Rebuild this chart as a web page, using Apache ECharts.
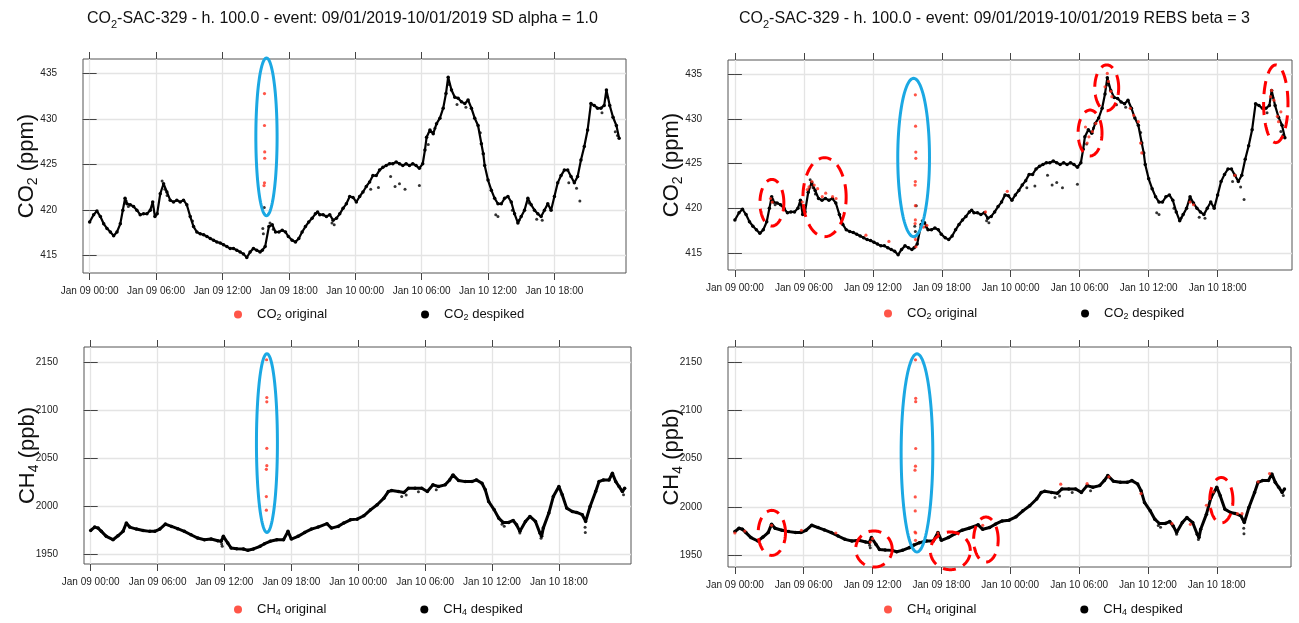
<!DOCTYPE html>
<html><head><meta charset="utf-8">
<script src="https://cdn.jsdelivr.net/npm/echarts@6/dist/echarts.min.js"></script>
<style>html,body{margin:0;padding:0;background:#fff}#c{width:1299px;height:623px}</style>
</head><body><div id="c"></div>
<script>
// ---- tick labels ----
const xTickHours = [0, 6, 12, 18, 24, 30, 36, 42];
const xTickLabels = ['Jan 09 00:00','Jan 09 06:00','Jan 09 12:00','Jan 09 18:00','Jan 10 00:00','Jan 10 06:00','Jan 10 12:00','Jan 10 18:00'];
const co2Ticks = [415, 420, 425, 430, 435];
const ch4Ticks = [1950, 2000, 2050, 2100, 2150];

// ---- data: [hours since Jan 09 00:00, value] ----
const co2Despiked = [[0.0,418.7],[0.36,419.5],[0.66,419.9],[0.97,419.3],[1.27,418.5],[1.57,418.0],[1.87,417.6],[2.17,417.2],[2.47,417.6],[2.77,418.5],[3.0,420.0],[3.2,421.3],[3.37,420.7],[3.67,420.6],[3.97,420.4],[4.27,420.0],[4.57,419.5],[4.87,419.6],[5.18,419.6],[5.48,420.0],[5.7,420.9],[5.9,419.3],[6.1,419.6],[6.38,421.8],[6.68,422.9],[6.98,422.0],[7.28,421.1],[7.58,420.9],[7.88,421.1],[8.18,420.9],[8.48,421.1],[8.78,420.6],[9.09,419.3],[9.39,418.2],[9.69,417.6],[9.99,417.4],[10.3,417.3],[10.6,417.1],[10.9,416.9],[11.2,416.7],[11.5,416.5],[11.8,416.4],[12.1,416.2],[12.4,416.0],[12.7,415.8],[13.0,415.8],[13.3,415.6],[13.6,415.4],[13.9,415.2],[14.2,414.8],[14.5,415.4],[14.8,415.8],[15.1,415.6],[15.4,415.4],[15.6,415.6],[15.86,416.0],[16.2,418.2],[16.5,418.4],[16.8,417.6],[17.1,417.6],[17.4,417.8],[17.7,417.6],[17.96,417.1],[18.3,416.7],[18.6,416.5],[18.9,416.9],[19.2,417.6],[19.5,418.2],[19.8,418.7],[20.1,419.1],[20.4,419.6],[20.6,419.8],[20.8,419.5],[21.1,419.5],[21.4,419.3],[21.7,419.5],[22.0,418.9],[22.3,419.1],[22.6,419.6],[22.9,420.2],[23.2,420.7],[23.5,421.5],[23.8,421.4],[24.1,420.9],[24.4,421.5],[24.7,422.0],[25.0,422.6],[25.3,423.1],[25.6,423.8],[25.9,423.8],[26.2,424.4],[26.5,424.7],[26.8,424.9],[27.1,425.1],[27.4,425.1],[27.7,425.3],[28.0,425.1],[28.3,424.9],[28.6,425.1],[28.9,424.9],[29.2,425.1],[29.5,424.9],[29.8,424.6],[30.1,425.1],[30.3,426.6],[30.45,428.0],[30.75,428.8],[31.05,428.4],[31.35,429.5],[31.65,430.1],[31.95,431.2],[32.2,432.8],[32.4,434.6],[32.7,433.2],[33.0,432.4],[33.3,432.3],[33.6,431.9],[33.9,431.7],[34.2,432.1],[34.5,431.2],[34.8,430.1],[35.1,429.3],[35.4,427.3],[35.57,426.2],[35.7,424.9],[36.0,423.3],[36.3,422.2],[36.6,421.3],[36.9,420.7],[37.2,420.7],[37.5,421.3],[37.8,421.5],[38.1,420.9],[38.4,419.6],[38.7,418.6],[39.0,419.3],[39.3,420.0],[39.6,421.3],[39.9,420.6],[40.2,420.0],[40.5,419.6],[40.8,419.3],[41.1,420.0],[41.4,420.7],[41.7,420.0],[42.0,421.5],[42.3,423.0],[42.6,423.8],[42.9,424.4],[43.2,424.4],[43.5,423.7],[43.8,423.0],[44.1,423.7],[44.4,425.5],[44.7,427.0],[45.0,428.8],[45.3,431.7],[45.6,431.5],[45.9,431.2],[46.2,431.2],[46.5,431.5],[46.7,433.2],[47.0,431.5],[47.3,430.2],[47.6,429.3],[47.85,427.9]];
const co2DespikedExtra = [[15.65,418.0],[15.7,417.4],[15.78,420.3],[6.55,423.2],[6.8,422.3],[7.0,421.6],[3.3,421.0],[3.5,420.4],[9.3,418.8],[16.3,418.6],[16.6,417.9],[21.9,418.6],[22.1,418.4],[26.1,422.5],[27.6,422.6],[28.0,422.9],[28.5,422.3],[29.8,422.7],[27.2,423.7],[25.4,422.3],[30.6,427.2],[31.2,429.0],[32.5,433.8],[33.2,431.6],[34.0,431.3],[35.3,428.5],[36.7,419.5],[36.9,419.3],[38.2,420.0],[38.8,418.9],[39.7,420.8],[40.4,419.0],[40.9,418.9],[43.3,423.0],[44.3,421.0],[44.0,422.4],[46.3,430.7],[46.8,432.4],[47.5,428.6],[47.7,428.2]];
const ch4Despiked = [[0,1974.6],[0.36,1978.1],[0.66,1977],[0.96,1973.6],[1.4,1968.4],[2.0,1964.9],[2.45,1969],[2.9,1973.6],[3.2,1982.3],[3.5,1978.1],[4.1,1976],[4.7,1974.6],[5.3,1973.6],[5.75,1973.6],[6.2,1976],[6.7,1981.2],[7.25,1978.8],[7.8,1976.4],[8.4,1973.6],[9.0,1970.1],[9.6,1966.6],[10.2,1964.9],[10.8,1965.6],[11.4,1963.8],[11.7,1963.2],[11.9,1968.4],[12.3,1961.4],[12.6,1956.2],[13.1,1955.5],[13.7,1955.2],[14.1,1953.8],[14.6,1955.2],[15.2,1958],[15.6,1960.7],[16.1,1963.2],[16.7,1964.9],[17.3,1964.9],[17.7,1973.6],[18.0,1965.6],[18.6,1968.4],[19.2,1972.5],[19.8,1976],[20.4,1978.1],[21.2,1981.6],[21.6,1977],[22.2,1978.8],[22.7,1982.3],[23.3,1985.7],[23.9,1986.4],[24.5,1989.9],[25.1,1996.1],[25.7,2001.4],[26.3,2008.3],[26.7,2015.2],[27.0,2016.3],[27.6,2015.2],[28.1,2014.2],[28.5,2018.7],[29.1,2018.7],[29.7,2018.7],[30.2,2015.2],[30.7,2022.2],[31.2,2020.5],[31.8,2022.2],[32.2,2027.4],[32.5,2032.6],[33.0,2026.7],[33.6,2025.6],[34.2,2025.6],[34.6,2027.4],[35.1,2023.9],[35.4,2017],[35.7,2004.8],[36.2,1996.1],[36.6,1987.5],[37.0,1983],[37.5,1983],[37.9,1985],[38.2,1980.5],[38.5,1973.6],[39.0,1984],[39.4,1989.2],[39.9,1984],[40.3,1971.8],[40.45,1968.4],[40.6,1977],[41.1,1992.7],[41.5,2010],[42.0,2020.5],[42.3,2011.8],[42.7,1997.9],[43.2,1994.4],[43.6,1993.4],[44.1,1991],[44.4,1984],[44.8,1999.6],[45.3,2015.2],[45.6,2025.6],[46.0,2027.4],[46.5,2027.4],[46.8,2034.3],[47.1,2025.6],[47.4,2020.5],[47.7,2015.2],[47.9,2018.7]];
const ch4DespikedExtra = [[11.75,1960.5],[11.8,1958],[27.9,2010],[28.3,2011.5],[36.9,1981],[37.1,1979],[38.5,1972],[40.4,1966.5],[44.37,1972.5],[44.35,1978],[47.8,2012],[31.0,2017],[29.4,2015]];
const co2OriginalSD = [[15.8,432.8],[15.8,429.3],[15.82,426.4],[15.82,425.7],[15.8,423.0],[15.76,422.7]];
const ch4OriginalSD = [[15.78,2153],[15.8,2113.5],[15.8,2109],[15.8,2060.4],[15.8,2042.3],[15.76,2038.5],[15.76,2010],[15.76,1995.8]];
const co2OriginalREBS = [[3.1,421.1],[3.25,420.7],[5.86,420.7],[6.0,420.2],[6.3,422.1],[6.45,422.4],[6.7,423.0],[6.9,422.6],[7.2,422.2],[7.6,421.3],[7.9,421.7],[8.5,421.3],[8.8,421.1],[15.7,432.7],[15.72,429.2],[15.74,426.3],[15.74,425.6],[15.7,423.0],[15.68,422.6],[15.7,420.3],[15.7,418.7],[15.68,418.3],[15.66,416.8],[15.72,416.5],[15.75,415.7],[11.4,417.0],[13.4,416.3],[16.4,417.9],[16.7,418.1],[21.8,419.6],[23.7,421.9],[30.5,429.1],[30.8,428.0],[30.65,427.3],[31.1,428.6],[31.4,429.5],[32.4,435.1],[32.5,434.2],[32.2,433.6],[32.7,433.1],[32.8,432.5],[34.4,431.2],[34.7,430.4],[35.1,429.7],[35.3,427.3],[35.4,426.2],[39.6,420.7],[39.9,420.4],[43.5,423.7],[46.7,433.2],[46.6,432.5],[46.9,432.1],[47.2,430.3],[47.5,430.8],[47.3,429.7]];
const ch4OriginalREBS = [[15.74,2152.3],[15.76,2112.5],[15.76,2109],[15.76,2060.6],[15.74,2042.3],[15.7,2038.2],[15.72,2010.5],[15.72,1996],[15.7,1974.2],[15.76,1973.2],[15.74,1965.6],[0.0,1973.2],[0.87,1975.2],[3.2,1981.1],[5.8,1976],[8.8,1973.2],[12.0,1967.3],[11.8,1963.8],[17.7,1973.2],[21.6,1981.1],[28.4,2023.7],[30.7,2024.3],[32.6,2031.3],[35.4,2014],[38.1,1982.8],[39.7,1982.2],[41.1,2001.9],[41.7,2015.7],[43.8,1993.2],[44.2,1993.2],[45.6,2026.1],[46.6,2034.7]];

// ---- annotation ellipses: [centre hour, centre value, x-radius (h), y-radius] ----
const blueCO2SD = [[15.98, 428.05, 0.96, 8.66]];
const blueCH4SD = [[15.81, 2065.9, 0.94, 93.4]];
const blueCO2REBS = [[15.55, 425.69, 1.38, 8.86]];
const blueCH4REBS = [[15.87, 2056, 1.38, 102.5]];
const redCO2REBS = [[3.22,420.63,1.04,2.61],[7.8,421.25,1.88,4.42],[30.9,428.43,1.04,2.57],[32.35,433.49,1.04,2.56],[47.06,431.7,1.06,4.35]];
const redCH4REBS = [[3.22,1973.3,1.19,23.3],[12.12,1956.6,1.59,18.7],[18.78,1954.7,1.74,19.5],[21.88,1966.4,1.07,23.3],[42.4,2007.1,1.01,23.5]];

// ---- rendering ----
const FONT = '"Liberation Sans", Arial, Helvetica, sans-serif';
const BLUE = '#1ba8e3', RED = '#ff0000', DOT_RED = '#ff2a1a';
const titleSD = 'CO2-SAC-329 - h. 100.0 - event: 09/01/2019-10/01/2019 SD alpha = 1.0';
const titleREBS = 'CO2-SAC-329 - h. 100.0 - event: 09/01/2019-10/01/2019 REBS beta = 3';

function richGas(s) { // turn CO2 / CH4 into rich subscripts
  return s.replace(/(CO|CH)(\d)/g, '}{n|$1}{s|$2}{n|').replace(/^/, '{n|') + '}';
}
function rich(fs, ss, lh) {
  return { n: { fontSize: fs, fontFamily: FONT, fontWeight: 'normal', color: '#111', lineHeight: lh },
           s: { fontSize: ss, fontFamily: FONT, fontWeight: 'normal', color: '#111', verticalAlign: 'bottom' },
           g: { width: 10 } };
}

const panels = [
  { grid: {left: 83, top: 59, width: 543, height: 214}, ymin: 413.1, ymax: 436.6, ticks: co2Ticks, gas: 'CO2', unit: ' (ppm)',
    black: co2Despiked, extra: co2DespikedExtra, red: co2OriginalSD, ellipses: [[blueCO2SD, BLUE, null]] },
  { grid: {left: 84, top: 347, width: 547, height: 217}, ymin: 1939.5, ymax: 2166.3, ticks: ch4Ticks, gas: 'CH4', unit: ' (ppb)',
    black: ch4Despiked, extra: ch4DespikedExtra, red: ch4OriginalSD, ellipses: [[blueCH4SD, BLUE, null]] },
  { grid: {left: 728, top: 60, width: 564, height: 210}, ymin: 413.1, ymax: 436.6, ticks: co2Ticks, gas: 'CO2', unit: ' (ppm)',
    black: co2Despiked, extra: co2DespikedExtra, red: co2OriginalREBS, ellipses: [[blueCO2REBS, BLUE, null], [redCO2REBS, RED, [13, 8]]] },
  { grid: {left: 728, top: 347, width: 563, height: 220}, ymin: 1938, ymax: 2165.6, ticks: ch4Ticks, gas: 'CH4', unit: ' (ppb)',
    black: ch4Despiked, extra: ch4DespikedExtra, red: ch4OriginalREBS, ellipses: [[blueCH4REBS, BLUE, null], [redCH4REBS, RED, [13, 8]]] }
];

const option = { animation: false, backgroundColor: '#fff', textStyle: { fontFamily: FONT },
  title: [
    { text: richGas(titleSD), left: 82, top: 3, textStyle: { fontWeight: 'normal', rich: rich(16, 11, 22) } },
    { text: richGas(titleREBS), left: 734, top: 3, textStyle: { fontWeight: 'normal', rich: rich(16, 11, 22) } }
  ],
  grid: [], xAxis: [], yAxis: [], series: [], legend: [] };

const legendPos = [
  { left: 229, top: 303, gap: 94 }, { left: 229, top: 598, gap: 94 },
  { left: 879, top: 302, gap: 104 }, { left: 879, top: 598, gap: 104 }
];

panels.forEach((p, i) => {
  option.grid.push(Object.assign({ show: true, borderColor: '#555', borderWidth: 1, backgroundColor: '#fff' }, p.grid));
  const xBase = { type: 'value', gridIndex: i, min: -0.6, max: 48.47, axisLine: { show: false } };
  option.xAxis.push(Object.assign({}, xBase, { position: 'bottom',
    axisTick: { show: true, length: 7, customValues: xTickHours, lineStyle: { color: '#444' } },
    axisLabel: { customValues: xTickHours, fontSize: 10, color: '#222', margin: 13,
      formatter: v => { const k = xTickHours.indexOf(v); return k >= 0 ? xTickLabels[k] : ''; } },
    splitLine: { show: true, lineStyle: { color: '#e4e4e4', width: 1.3 } } }));
  option.xAxis.push(Object.assign({}, xBase, { position: 'top',
    axisTick: { show: true, length: 7, customValues: xTickHours, lineStyle: { color: '#444' } },
    axisLabel: { show: false }, splitLine: { show: false } }));
  const yBase = { type: 'value', gridIndex: i, min: p.ymin, max: p.ymax, axisLine: { show: false } };
  option.yAxis.push(Object.assign({}, yBase, { position: 'left',
    axisTick: { show: true, length: 7, customValues: p.ticks, lineStyle: { color: '#444' } },
    axisLabel: { customValues: p.ticks, fontSize: 10, color: '#222', margin: 26, formatter: v => String(v) },
    splitLine: { show: true, lineStyle: { color: '#e4e4e4', width: 1.3 } },
    name: richGas(p.gas) .replace(/\}$/, p.unit + '}'), nameLocation: 'middle', nameGap: 43, nameRotate: 90,
    nameMoveOverlap: false, nameTextStyle: { rich: rich(22, 14, 26) } }));
  option.yAxis.push(Object.assign({}, yBase, { position: 'right',
    axisTick: { show: true, length: 7, customValues: p.ticks, lineStyle: { color: '#444' } },
    axisLabel: { show: false }, splitLine: { show: false } }));
  const xa = i * 2, ya = i * 2;
  const nOrig = p.gas + ' original', nDesp = p.gas + ' despiked';
  option.series.push({ type: 'line', name: nDesp, xAxisIndex: xa, yAxisIndex: ya, data: p.black,
    showSymbol: true, symbol: 'circle', symbolSize: 3.5, itemStyle: { color: '#000' },
    lineStyle: { color: '#000', width: i % 2 === 0 ? 2.2 : 3 }, silent: true, z: 3 });
  option.series.push({ type: 'scatter', name: nDesp, xAxisIndex: xa, yAxisIndex: ya, data: p.extra,
    symbolSize: 3, itemStyle: { color: '#000' }, silent: true, z: 3 });
  option.series.push({ type: 'scatter', name: nOrig, xAxisIndex: xa, yAxisIndex: ya, data: p.red,
    symbolSize: 3.2, itemStyle: { color: DOT_RED }, silent: true, z: 4 });
  p.ellipses.forEach(([list, color, dash]) => {
    option.series.push({ type: 'custom', xAxisIndex: xa, yAxisIndex: ya, data: list, clip: false, silent: true, z: 5,
      renderItem: (params, api) => {
        const cx = api.value(0), cy = api.value(1), rx = api.value(2), ry = api.value(3);
        const pts = [];
        for (let k = 0; k <= 120; k++) {
          const t = k / 120 * Math.PI * 2;
          pts.push(api.coord([cx + rx * Math.cos(t), cy + ry * Math.sin(t)]));
        }
        return { type: 'polyline', shape: { points: pts },
          style: { fill: null, stroke: color, lineWidth: 3, lineDash: dash || null } };
      } });
  });
  const lp = legendPos[i];
  option.legend.push({ left: lp.left, top: lp.top, itemGap: lp.gap, itemWidth: 8, itemHeight: 8, icon: 'circle',
    data: [{ name: nOrig, itemStyle: { color: DOT_RED } }, { name: nDesp, itemStyle: { color: '#000' } }],
    selectedMode: false, formatter: n => '{g| }' + richGas(n), textStyle: { rich: rich(13, 9, 16) } });
});

const chart = echarts.init(document.getElementById('c'), null, { renderer: 'canvas' });
chart.setOption(option);
</script></body></html>
